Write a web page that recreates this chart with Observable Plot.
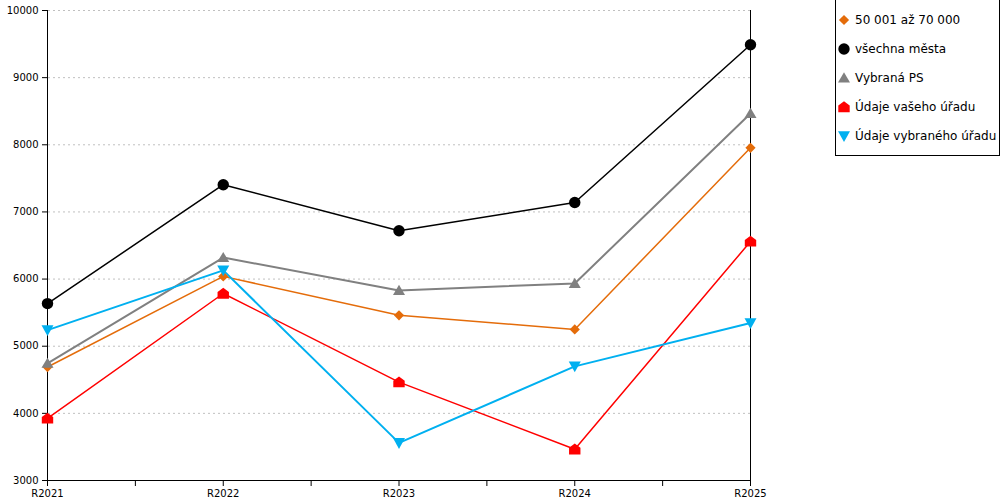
<!DOCTYPE html>
<html>
<head>
<meta charset="utf-8">
<script src="https://cdn.jsdelivr.net/npm/d3@7"></script>
<script src="https://cdn.jsdelivr.net/npm/@observablehq/plot@0.6"></script>
<style>
  html, body { margin: 0; padding: 0; background: #fff; }
  #wrap { position: relative; width: 1000px; height: 500px; font-family: "DejaVu Sans", Verdana, sans-serif; }
  #legend { position: absolute; left: 835px; top: -1px; width: 163px; height: 155px; border: 1px solid #000; background: #fff; font-size: 12px; }
  .item { position: absolute; left: 0; height: 16px; display: flex; align-items: center; white-space: nowrap; }
  .item svg { width: 16px; height: 16px; margin-left: 0px; margin-right: 3px; }
</style>
</head>
<body>
<div id="wrap"><div id="chart"></div><div id="legend"></div></div>
<script>
const categories = ["R2021", "R2022", "R2023", "R2024", "R2025"];
const seriesNames = ["50 001 až 70 000", "všechna města", "Vybraná PS", "Údaje vašeho úřadu", "Údaje vybraného úřadu"];
const values50k = [4690, 6040, 5460, 5250, 7955];
const valuesAll = [5635, 7405, 6720, 7140, 9490];
const valuesPS = [4745, 6320, 5830, 5935, 8465];
const valuesVas = [3925, 5785, 4465, 3465, 6560];
const valuesVyb = [5240, 6130, 3560, 4700, 5345];
const seriesColors = ["#E46C0A", "#000000", "#808080", "#FF0000", "#00B0F0"];
const seriesWidths = [1.5, 1.5, 2, 1.5, 2];
const yTicks = [3000, 4000, 5000, 6000, 7000, 8000, 9000, 10000];
const xTicks = [0, 0.5, 1, 1.5, 2, 2.5, 3, 3.5, 4];

const allValues = [values50k, valuesAll, valuesPS, valuesVas, valuesVyb];

// custom symbols
const symDiamond = { draw(ctx, size) { const r = Math.sqrt(size / Math.PI) * 0.85; ctx.moveTo(0, -r); ctx.lineTo(r, 0); ctx.lineTo(0, r); ctx.lineTo(-r, 0); ctx.closePath(); } };
const symCircle = { draw(ctx, size) { const r = Math.sqrt(size / Math.PI) * 0.95; ctx.moveTo(r, 0); ctx.arc(0, 0, r, 0, 2 * Math.PI); ctx.closePath(); } };
const symTriUp = { draw(ctx, size) { const r = Math.sqrt(size / Math.PI); ctx.moveTo(0, -r * 0.95); ctx.lineTo(r, r * 0.75); ctx.lineTo(-r, r * 0.75); ctx.closePath(); } };
const symHouse = { draw(ctx, size) { const r = Math.sqrt(size / Math.PI) * 0.95; ctx.moveTo(0, -r); ctx.lineTo(r, -r * 0.25); ctx.lineTo(r, r * 0.9); ctx.lineTo(-r, r * 0.9); ctx.lineTo(-r, -r * 0.25); ctx.closePath(); } };
const symTriDown = { draw(ctx, size) { const r = Math.sqrt(size / Math.PI); ctx.moveTo(-r, -r * 0.8); ctx.lineTo(r, -r * 0.8); ctx.lineTo(0, r * 1.0); ctx.closePath(); } };
const seriesSymbols = [symDiamond, symCircle, symTriUp, symHouse, symTriDown];

const rows = [];
allValues.forEach((vals, s) => vals.forEach((v, i) => rows.push({ s, x: i, y: v })));

const lineMarks = allValues.map((vals, s) =>
  Plot.line(rows.filter(d => d.s === s), { x: "x", y: "y", stroke: seriesColors[s], strokeWidth: seriesWidths[s] })
);
const dotMarks = allValues.map((vals, s) =>
  Plot.dot(rows.filter(d => d.s === s), { x: "x", y: "y", fill: seriesColors[s], stroke: "none", r: 6, symbol: seriesSymbols[s] })
);

const chart = Plot.plot({
  width: 1000,
  height: 500,
  marginLeft: 47,
  marginRight: 250,
  marginTop: 10,
  marginBottom: 20,
  style: { fontFamily: "DejaVu Sans, Verdana, sans-serif", fontSize: "10px", color: "#000", background: "#fff" },
  x: { type: "linear", domain: [0, 4] },
  y: { type: "linear", domain: [3000, 10000] },
  marks: [
    Plot.ruleY(yTicks.slice(1), { stroke: "#c0c0c0", strokeDasharray: "2,3", strokeDashoffset: -6, strokeWidth: 1 }),
    Plot.axisY({ ticks: yTicks, tickSize: 5, tickPadding: 4, tickFormat: d3.format("d"), label: null, stroke: "#000", fill: "#000" }),
    Plot.axisX({ ticks: xTicks, tickSize: 6, tickPadding: 3, tickFormat: d => Number.isInteger(d) ? categories[d] : "", label: null, stroke: "#000", fill: "#000" }),
    Plot.ruleX([0, 4], { stroke: "#000", strokeWidth: 1 }),
    Plot.ruleY([3000], { stroke: "#000", strokeWidth: 1 }),
    ...lineMarks,
    ...dotMarks
  ]
});
document.getElementById("chart").appendChild(chart);

// legend
const legend = document.getElementById("legend");
const legendTops = [12, 41, 70, 99, 128];
seriesNames.forEach((name, s) => {
  const item = document.createElement("div");
  item.className = "item";
  item.style.top = legendTops[s] + "px";
  const p = d3.path();
  seriesSymbols[s].draw(p, 36 * Math.PI);
  item.innerHTML = `<svg viewBox="-8 -8 16 16"><path d="${p.toString()}" fill="${seriesColors[s]}"/></svg><span>${name}</span>`;
  legend.appendChild(item);
});
</script>
</body>
</html>
